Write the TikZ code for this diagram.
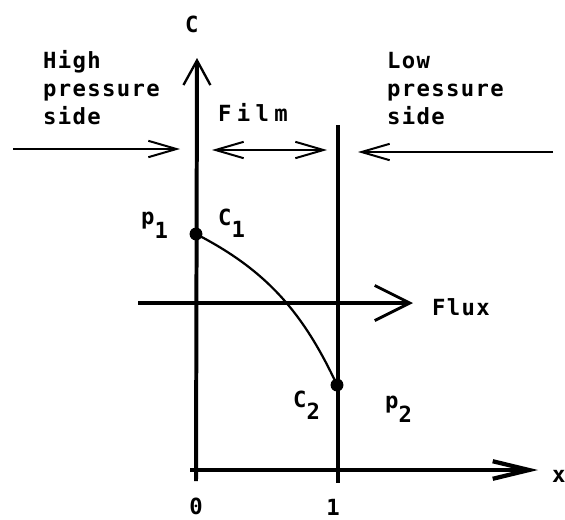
\documentclass[tikz,border=0pt]{standalone}
\usepackage{fontspec}
\newfontfamily\lbl{DejaVu Sans Mono Bold}[LetterSpace=6]
\newfontfamily\lblwide{DejaVu Sans Mono Bold}[LetterSpace=24]
\usetikzlibrary{arrows.meta}
\begin{document}
\begin{tikzpicture}[x=0.03cm,y=-0.03cm,
  lab/.style={inner sep=0pt, font=\lbl\fontsize{19}{24}\selectfont},
  axisline/.style={line width=3.4pt},
  thinline/.style={line width=1.7pt},
  barbtip/.style={-{Straight Barb[length=24pt,width=14pt,line width=1.7pt]}},
  dbarbtip/.style={{Straight Barb[length=24pt,width=14pt,line width=1.7pt]}-{Straight Barb[length=24pt,width=14pt,line width=1.7pt]}},
  dot/.style={circle,fill,inner sep=0pt,minimum size=11pt}]
\useasboundingbox (0,0) rectangle (565,519);

% axes and film boundary
\coordinate (Ob) at (196,481);
\coordinate (Ct) at (197,58);
\coordinate (Rt) at (338,125);
\coordinate (Rb) at (338,483);
\coordinate (Xs) at (190,470);
\coordinate (Xe) at (538,470);
\draw[axisline,-{Straight Barb[length=21pt,width=23pt,line width=2pt]}] (Ob) -- (Ct);
\draw[axisline] (Rt) -- (Rb);
\draw[line width=2.8pt,-{Straight Barb[length=31pt,width=15pt,line width=3.6pt]}] (Xs) -- (Xe);

% horizontal arrows
\coordinate (La) at (13,149);
\coordinate (Lb) at (180,149);
\coordinate (Fa) at (212,150);
\coordinate (Fb) at (327,150);
\coordinate (Ra) at (553,152);
\coordinate (Rb2) at (358,152);
\draw[thinline,barbtip] (La) -- (Lb);
\draw[thinline,dbarbtip] (Fa) -- (Fb);
\draw[thinline,barbtip] (Ra) -- (Rb2);

% flux
\coordinate (Fxa) at (138,303);
\coordinate (Fxb) at (413,303);
\draw[line width=2.6pt,-{Straight Barb[length=30pt,width=30pt,line width=2.4pt]}] (Fxa) -- (Fxb);

% concentration profile
\node[dot] (c1) at (196,234) {};
\node[dot] (c2) at (337,385) {};
\draw[line width=1.9pt] (c1.center) .. controls (266,270) and (303,312) .. (c2.center);

% labels
\node[lab,anchor=base west] (lC) at (185,32) {C};
\node[lab,anchor=north west,align=left] (lhigh) at (43,50) {High\\pressure\\side};
\node[lab,anchor=north west,align=left] (llow) at (387,52) {Low\\pressure\\side};
\node[lab,font=\lblwide\fontsize{19}{24}\selectfont,anchor=base west] (lfilm) at (218,121) {Film};
\node[lab,anchor=base west] (lp1) at (141,224) {p\raisebox{-12pt}{1}};
\node[lab,anchor=base west] (lc1) at (218,225) {C\raisebox{-11pt}{1}};
\node[lab,anchor=base west] (lc2) at (293,407) {C\raisebox{-11pt}{2}};
\node[lab,anchor=base west] (lp2) at (385,408) {p\raisebox{-12pt}{2}};
\node[lab,anchor=base west] (lflux) at (432,315) {Flux};
\node[lab,anchor=base west] (lx) at (552,482) {x};
\node[lab,anchor=base] (l0) at (196,514) {0};
\node[lab,anchor=base] (l1) at (333,515) {1};
\end{tikzpicture}
\end{document}
